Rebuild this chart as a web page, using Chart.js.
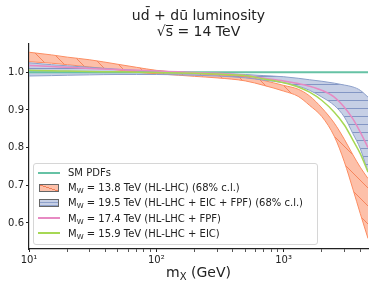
<!DOCTYPE html>
<html>
<head>
<meta charset="utf-8">
<script src="https://cdn.jsdelivr.net/npm/chart.js@4"></script>
<style>
  body { margin: 0; background: #fff; font-family: "DejaVu Sans", sans-serif; }
  #wrap { position: relative; width: 374px; height: 290px; }
  #xTitle { position: absolute; left: 29px; width: 339px; top: 263px; text-align: center;
            font-size: 14px; line-height: 18px; color: #222; }
  #xTitle sub { font-size: 10px; vertical-align: -3px; line-height: 0; }
  .legend { position: absolute; left: 33px; top: 163px; width: 285px; height: 82px;
            border: 1px solid #d6d6d6; border-radius: 3px; background: rgba(255,255,255,0.8);
            font-size: 10px; color: #222; box-sizing: border-box; padding-top: 1px; }
  .legend-row { position: relative; height: 15.2px; line-height: 15.2px; padding-left: 34px; white-space: nowrap; }
  .legend-row sub { font-size: 7px; vertical-align: -2px; line-height: 0; }
  .swatch-line { position: absolute; left: 4px; top: 6.6px; width: 22px; height: 2px; }
  .swatch-patch { position: absolute; left: 5px; top: 3.6px; width: 20px; height: 8px;
                  border: 1px solid #666; box-sizing: border-box; }
</style>
</head>
<body>
<div id="wrap">
  <canvas id="lumiChart" width="374" height="290"></canvas>
  <div id="xTitle">m<sub>X</sub> (GeV)</div>
  <div class="legend">
    <div class="legend-row"><span class="swatch-line" style="background:#66c2a5"></span>SM PDFs</div>
    <div class="legend-row"><span class="swatch-patch" style="background:linear-gradient(to top right, transparent 46%, #f08058 46%, #f08058 54%, transparent 54%), rgba(252,141,98,0.55)"></span>M<sub>W</sub> = 13.8 TeV (HL-LHC) (68% c.l.)</div>
    <div class="legend-row"><span class="swatch-patch" style="background:repeating-linear-gradient(to bottom, transparent 0 2px, #8da0cb 2px 3px), rgba(141,160,203,0.5)"></span>M<sub>W</sub> = 19.5 TeV (HL-LHC + EIC + FPF) (68% c.l.)</div>
    <div class="legend-row"><span class="swatch-line" style="background:#e78ac3;height:1.5px"></span>M<sub>W</sub> = 17.4 TeV (HL-LHC + FPF)</div>
    <div class="legend-row"><span class="swatch-line" style="background:#a6d854;height:1.5px"></span>M<sub>W</sub> = 15.9 TeV (HL-LHC + EIC)</div>
  </div>
</div>
<script>
// m_X sample points (GeV)
const mX = [10, 15, 20, 30, 50, 70, 100, 150, 200, 300, 500, 700, 1000, 1300, 1600, 2000, 2500, 3000, 3500, 4000, 4600];

// luminosity ratio to SM
const smPdfs   = [1, 1, 1, 1, 1, 1, 1, 1, 1, 1, 1, 1, 1, 1, 1, 1, 1, 1, 1, 1, 1];
const hlLhcHi  = [1.053, 1.046, 1.040, 1.033, 1.021, 1.013, 1.005, 1.000, 0.997, 0.993, 0.988, 0.978, 0.965, 0.955, 0.937, 0.905, 0.865, 0.822, 0.781, 0.748, 0.718];
const hlLhcLo  = [1.028, 1.024, 1.020, 1.014, 1.006, 1.000, 0.996, 0.992, 0.989, 0.985, 0.977, 0.965, 0.950, 0.936, 0.912, 0.882, 0.830, 0.762, 0.690, 0.625, 0.559];
const allHi    = [1.025, 1.020, 1.017, 1.013, 1.008, 1.005, 1.003, 1.001, 0.999, 0.997, 0.994, 0.991, 0.988, 0.984, 0.980, 0.976, 0.971, 0.966, 0.961, 0.952, 0.934];
const allLo    = [0.990, 0.991, 0.992, 0.993, 0.994, 0.994, 0.994, 0.993, 0.992, 0.990, 0.985, 0.979, 0.972, 0.963, 0.952, 0.934, 0.912, 0.881, 0.837, 0.797, 0.735];
const lhcFpf   = [1.018, 1.015, 1.013, 1.010, 1.007, 1.005, 1.003, 1.001, 0.999, 0.997, 0.991, 0.984, 0.977, 0.970, 0.963, 0.952, 0.934, 0.907, 0.876, 0.841, 0.800];
const lhcEic   = [1.005, 1.004, 1.003, 1.002, 1.001, 1.000, 0.999, 0.998, 0.997, 0.995, 0.991, 0.982, 0.972, 0.961, 0.947, 0.925, 0.894, 0.860, 0.820, 0.784, 0.735];

// axis ticks
const xTicks  = [10, 20, 30, 40, 50, 60, 70, 80, 90, 100, 200, 300, 400, 500, 600, 700, 800, 900, 1000, 2000, 3000, 4000];
const xLabels = { 10: '10¹', 100: '10²', 1000: '10³' };
const yTicks  = [0.6, 0.7, 0.8, 0.9, 1.0];

const INK = '#222';

function hatch(fill, stroke, kind, size) {
  const c = document.createElement('canvas');
  c.width = c.height = size;
  const g = c.getContext('2d');
  g.fillStyle = fill;
  g.fillRect(0, 0, size, size);
  g.strokeStyle = stroke;
  g.lineWidth = 1;
  g.beginPath();
  if (kind === '\\') {
    for (const k of [-size, 0, size]) { g.moveTo(k, 0); g.lineTo(k + size, size); }
  } else {
    g.moveTo(0, size / 2 + 0.5); g.lineTo(size, size / 2 + 0.5);
  }
  g.stroke();
  return g.createPattern(c, 'repeat');
}

const pts = arr => mX.map((x, i) => ({ x, y: arr[i] }));

const line = (data, color, width, extra = {}) => Object.assign({
  data: pts(data),
  borderColor: color,
  borderWidth: width,
  pointRadius: 0,
  fill: false,
  cubicInterpolationMode: 'monotone',
}, extra);

new Chart(document.getElementById('lumiChart'), {
  type: 'line',
  data: {
    datasets: [
      line(lhcEic, '#a6d854', 1.5),
      line(lhcFpf, '#e78ac3', 1.5),
      line(allHi,  '#8da0cb', 1, { fill: '+1', backgroundColor: hatch('rgba(141,160,203,0.5)', 'rgba(120,140,190,0.85)', '-', 8) }),
      line(allLo,  '#8da0cb', 1),
      line(hlLhcHi, '#fc8d62', 1, { fill: '+1', backgroundColor: hatch('rgba(252,141,98,0.55)', 'rgba(245,128,85,0.9)', '\\', 18) }),
      line(hlLhcLo, '#fc8d62', 1),
      line(smPdfs, '#66c2a5', 2),
    ],
  },
  options: {
    responsive: false,
    animation: false,
    layout: { padding: { left: 0, right: 6, top: 0, bottom: 0 } },
    plugins: {
      legend: { display: false },
      tooltip: { enabled: false },
      filler: { drawTime: 'beforeDatasetsDraw' },
      title: {
        display: true,
        fullSize: false,
        text: ['ud̄ + dū luminosity', '√s̅ = 14 TeV'],
        color: INK,
        font: { family: 'DejaVu Sans', size: 14, weight: 'normal', lineHeight: 1.15 },
        padding: { top: 8, bottom: 3 },
      },
    },
    scales: {
      x: {
        type: 'logarithmic',
        min: 10,
        max: 4600,
        afterBuildTicks: s => { s.ticks = xTicks.map(v => ({ value: v, major: v in xLabels })); },
        afterFit: s => { s.height = 41; },
        grid: {
          drawOnChartArea: false,
          tickLength: 3,
          tickColor: c => (c.tick && xLabels[c.tick.value]) ? INK : '#555',
        },
        border: { display: true, color: INK, width: 1.2 },
        ticks: {
          autoSkip: false,
          maxRotation: 0,
          padding: 2,
          color: INK,
          font: { family: 'DejaVu Sans', size: 10 },
          callback: v => xLabels[v] || '',
        },
      },
      y: {
        min: 0.531,
        max: 1.077,
        afterBuildTicks: s => { s.ticks = yTicks.map(v => ({ value: v })); },
        afterFit: s => { s.width = 29; },
        grid: { drawOnChartArea: false, tickLength: 3, tickColor: INK },
        border: { display: true, color: INK, width: 1.2 },
        ticks: {
          padding: 2,
          color: INK,
          font: { family: 'DejaVu Sans', size: 10 },
          callback: v => v.toFixed(1),
        },
      },
    },
  },
});
</script>
</body>
</html>
